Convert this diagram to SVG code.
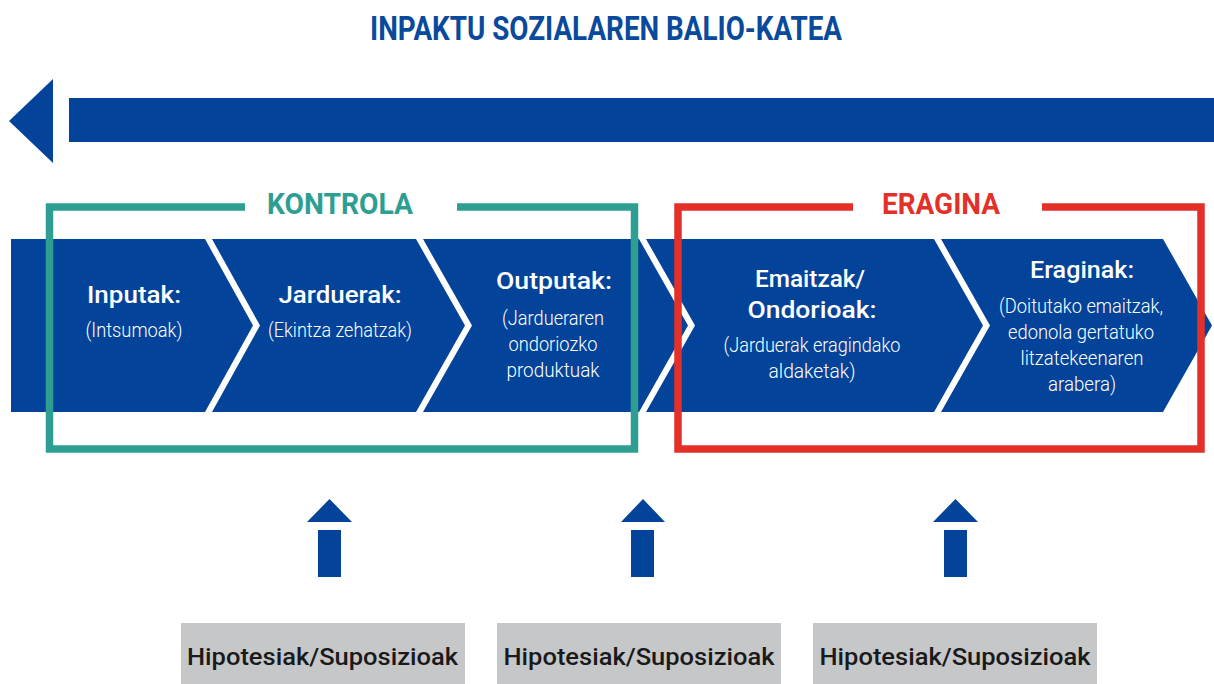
<svg xmlns="http://www.w3.org/2000/svg" width="1214" height="684" viewBox="0 0 1214 684">
<style>
.blue{fill:#03449A}
.hd{font-family:Roboto,"Liberation Sans",sans-serif;font-weight:500;fill:#ffffff;font-size:24px;text-anchor:middle}
.sb{font-family:Roboto,"Liberation Sans",sans-serif;font-weight:300;fill:#ffffff;font-size:20px;text-anchor:middle}
.hyp{fill:#C6C7C9}
.ht{font-family:Roboto,"Liberation Sans",sans-serif;font-weight:500;fill:#1a1a1a;font-size:24px;text-anchor:middle}
.frame{fill:none;stroke-width:7.5}
</style>
<rect width="1214" height="684" fill="#ffffff"/>
<g id="title">
<text x="606" y="40" font-family="Roboto,'Liberation Sans',sans-serif" font-weight="700" font-size="33" fill="#0A4A9C" text-anchor="middle" textLength="472" lengthAdjust="spacingAndGlyphs">INPAKTU SOZIALAREN BALIO-KATEA</text>
</g>
<g id="connectors">
<polygon class="blue" points="53,79 9,121 53,163"/>
<rect class="blue" x="69" y="98" width="1145" height="44"/>
<polygon class="blue" points="307,522 329.5,499 352,522"/>
<rect class="blue" x="318" y="530" width="23" height="47"/>
<polygon class="blue" points="621,522 643,499 665,522"/>
<rect class="blue" x="631" y="530" width="23" height="47"/>
<polygon class="blue" points="933,522 955.5,499 978,522"/>
<rect class="blue" x="944" y="530" width="23" height="47"/>
</g>
<g id="inputak">
<polygon class="blue" points="11,239 205,239 253,325.5 205,412 11,412"/>
<text class="hd" x="134" y="303" textLength="94" lengthAdjust="spacingAndGlyphs">Inputak:</text>
<text class="sb" x="134" y="337" textLength="97" lengthAdjust="spacingAndGlyphs">(Intsumoak)</text>
</g>
<g id="jarduerak">
<polygon class="blue" points="212,239 416,239 465,325.5 416,412 212,412 260,325.5"/>
<text class="hd" x="340" y="303" textLength="123" lengthAdjust="spacingAndGlyphs">Jarduerak:</text>
<text class="sb" x="340" y="337" textLength="144" lengthAdjust="spacingAndGlyphs">(Ekintza zehatzak)</text>
</g>
<g id="outputak">
<polygon class="blue" points="423,239 639,239 688,325.5 639,412 423,412 472,325.5"/>
<text class="hd" x="554" y="289" textLength="116" lengthAdjust="spacingAndGlyphs">Outputak:</text>
<text class="sb" x="553" y="325" textLength="102" lengthAdjust="spacingAndGlyphs">(Jardueraren</text>
<text class="sb" x="553" y="351" textLength="89" lengthAdjust="spacingAndGlyphs">ondoriozko</text>
<text class="sb" x="553" y="377" textLength="93" lengthAdjust="spacingAndGlyphs">produktuak</text>
</g>
<g id="emaitzak">
<polygon class="blue" points="646,239 934,239 983,325.5 934,412 646,412 695,325.5"/>
<text class="hd" x="810" y="287" textLength="110" lengthAdjust="spacingAndGlyphs">Emaitzak/</text>
<text class="hd" x="812" y="318" textLength="129" lengthAdjust="spacingAndGlyphs">Ondorioak:</text>
<text class="sb" x="812" y="352" textLength="177" lengthAdjust="spacingAndGlyphs">(Jarduerak eragindako</text>
<text class="sb" x="812" y="378" textLength="87" lengthAdjust="spacingAndGlyphs">aldaketak)</text>
</g>
<g id="eraginak">
<polygon class="blue" points="941,239 1163,239 1212,325.5 1163,412 941,412 990,325.5"/>
<text class="hd" x="1082" y="278" textLength="104" lengthAdjust="spacingAndGlyphs">Eraginak:</text>
<text class="sb" x="1081" y="313" textLength="164" lengthAdjust="spacingAndGlyphs">(Doitutako emaitzak,</text>
<text class="sb" x="1081" y="339" textLength="146" lengthAdjust="spacingAndGlyphs">edonola gertatuko</text>
<text class="sb" x="1082" y="365" textLength="123" lengthAdjust="spacingAndGlyphs">litzatekeenaren</text>
<text class="sb" x="1082" y="391" textLength="68" lengthAdjust="spacingAndGlyphs">arabera)</text>
</g>
<g id="kontrola">
<polyline class="frame" stroke="#2E9E93" points="245,207 49.5,207 49.5,449 634.5,449 634.5,207 457,207"/>
<text x="340" y="214" font-family="Roboto,'Liberation Sans',sans-serif" font-weight="700" font-size="30" fill="#2E9E93" text-anchor="middle" textLength="146" lengthAdjust="spacingAndGlyphs">KONTROLA</text>
</g>
<g id="eragina">
<polyline class="frame" stroke="#E3312A" points="853,207 678,207 678,449 1201,449 1201,207 1042,207"/>
<text x="941" y="214" font-family="Roboto,'Liberation Sans',sans-serif" font-weight="700" font-size="30" fill="#E3312A" text-anchor="middle" textLength="118" lengthAdjust="spacingAndGlyphs">ERAGINA</text>
</g>
<g id="hipotesiak1">
<rect class="hyp" x="181" y="623" width="284" height="61"/>
<text class="ht" x="322.5" y="665" textLength="271" lengthAdjust="spacingAndGlyphs">Hipotesiak/Suposizioak</text>
</g>
<g id="hipotesiak2">
<rect class="hyp" x="497" y="623" width="284" height="61"/>
<text class="ht" x="639" y="665" textLength="271" lengthAdjust="spacingAndGlyphs">Hipotesiak/Suposizioak</text>
</g>
<g id="hipotesiak3">
<rect class="hyp" x="813" y="623" width="284" height="61"/>
<text class="ht" x="955" y="665" textLength="271" lengthAdjust="spacingAndGlyphs">Hipotesiak/Suposizioak</text>
</g>
</svg>
